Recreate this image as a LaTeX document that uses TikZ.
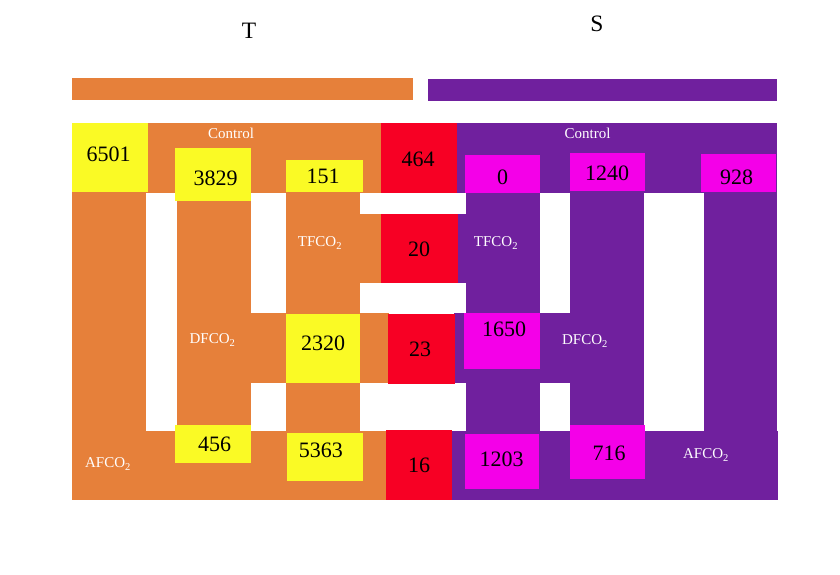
\documentclass[tikz,border=0pt]{standalone}
\usepackage{fontspec}
\setmainfont{Liberation Serif}
\definecolor{torange}{RGB}{230,128,58}
\definecolor{spurple}{RGB}{112,32,158}
\definecolor{tyellow}{RGB}{250,250,37}
\definecolor{tred}{RGB}{247,0,36}
\definecolor{smagenta}{RGB}{244,0,232}
\begin{document}
\begin{tikzpicture}[x=1pt,y=-1pt]
		\tikzset{num/.style = {inner sep=0pt,font=\fontsize{22}{26}\selectfont}}
		\tikzset{lbl/.style = {inner sep=0pt,text=white,font=\fontsize{15}{18}\selectfont}}
		\tikzset{head/.style = {inner sep=0pt,font=\fontsize{23.5}{28}\selectfont}}
		\useasboundingbox (0,0) rectangle (840,574);
		\node[head] (t) at (249,30.5) {T};
		\node[head] (s) at (597,24) {S};
		\fill[torange] (72,78) rectangle (413,100);
		\fill[spurple] (428,79) rectangle (777,101);
		% T side
		\fill[torange] (72,123) rectangle (381,193);
		\fill[torange] (72,193) rectangle (146,500);
		\fill[torange] (177,193) rectangle (251,431);
		\fill[torange] (286,193) rectangle (360,431);
		\fill[torange] (360,214) rectangle (382,283);
		\fill[torange] (177,313) rectangle (389,383);
		\fill[torange] (72,431) rectangle (387,500);
		% S side
		\fill[spurple] (457,123) rectangle (777,193);
		\fill[spurple] (466,193) rectangle (540,431);
		\fill[spurple] (457,214) rectangle (466,283);
		\fill[spurple] (454,313) rectangle (570,383);
		\fill[spurple] (570,193) rectangle (644,431);
		\fill[spurple] (704,193) rectangle (777,431);
		\fill[spurple] (451,431) rectangle (778,500);
		% red
		\fill[tred] (381,123) rectangle (457,193);
		\fill[tred] (381,214) rectangle (458,283);
		\fill[tred] (388,314) rectangle (455,384);
		\fill[tred] (386,430) rectangle (452,500);
		% yellow
		\fill[tyellow] (72,123) rectangle (148,192);
		\fill[tyellow] (175,148) rectangle (251,201);
		\fill[tyellow] (286,160) rectangle (363,192);
		\fill[tyellow] (286,314) rectangle (360,383);
		\fill[tyellow] (175,425) rectangle (251,463);
		\fill[tyellow] (287,433) rectangle (363,481);
		% magenta
		\fill[smagenta] (465,155) rectangle (540,193);
		\fill[smagenta] (570,153) rectangle (645,191);
		\fill[smagenta] (701,154) rectangle (776,192);
		\fill[smagenta] (464,313) rectangle (540,369);
		\fill[smagenta] (465,434) rectangle (539,489);
		\fill[smagenta] (570,425) rectangle (645,479);
		% labels
		\node[lbl] (tc) at (231,133) {Control};
		\node[lbl] (sc) at (587.5,133) {Control};
		\node[lbl] (ttf) at (320,243) {TFCO\textsubscript{2}};
		\node[lbl] (stf) at (496,243) {TFCO\textsubscript{2}};
		\node[lbl] (tdf) at (212.5,340) {DFCO\textsubscript{2}};
		\node[lbl] (sdf) at (585,341) {DFCO\textsubscript{2}};
		\node[lbl] (taf) at (108,464) {AFCO\textsubscript{2}};
		\node[lbl] (saf) at (706,455) {AFCO\textsubscript{2}};
		% numbers
		\node[num] (a) at (108.7,154) {6501};
		\node[num] (b) at (215.7,178) {3829};
		\node[num] (c) at (323,176) {151};
		\node[num] (d) at (418,159.5) {464};
		\node[num] (e) at (419,249.5) {20};
		\node[num] (f) at (323,343) {2320};
		\node[num] (g) at (420,349.5) {23};
		\node[num] (h) at (214.7,444) {456};
		\node[num] (i) at (320.8,450) {5363};
		\node[num] (j) at (419,465.5) {16};
		\node[num] (k) at (502.7,177.5) {0};
		\node[num] (l) at (607,173) {1240};
		\node[num] (m) at (736.7,177) {928};
		\node[num] (n) at (504,329.5) {1650};
		\node[num] (o) at (501.7,459.5) {1203};
		\node[num] (p) at (609,453.7) {716};
	\end{tikzpicture}
\end{document}
